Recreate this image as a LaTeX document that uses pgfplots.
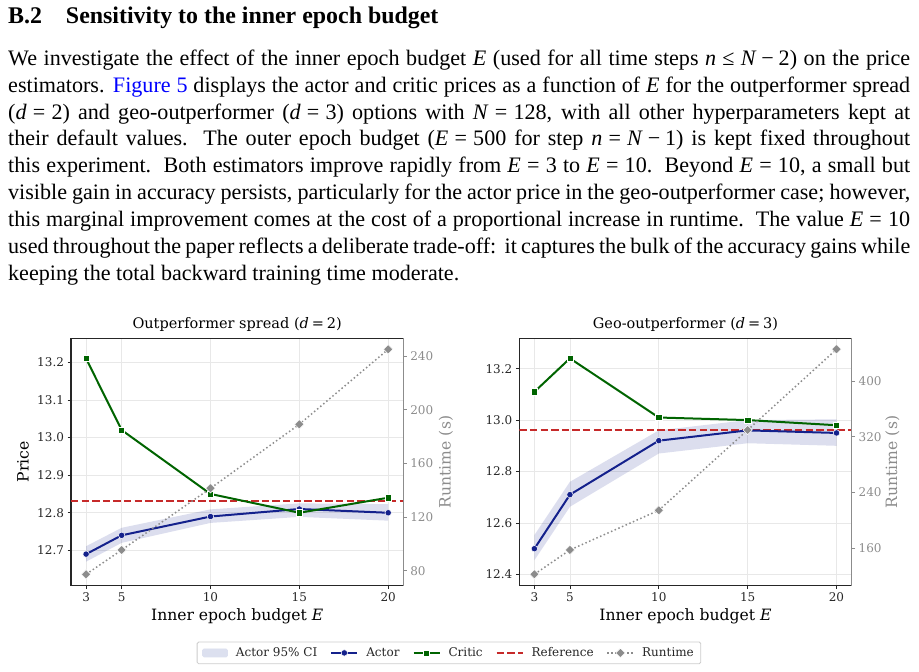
\documentclass[border=0pt]{standalone}
\usepackage{fontspec}
\setmainfont{Liberation Serif}
\newfontfamily\chartfont{DejaVu Serif}
\usepackage{pgfplots}
\usepackage{pgfplotstable}
\pgfplotsset{compat=1.18}
\usepgfplotslibrary{fillbetween}
\definecolor{actor}{HTML}{14218C}
\definecolor{critic}{HTML}{006400}
\definecolor{refc}{HTML}{C62A2A}
\definecolor{rtc}{HTML}{8C8C8C}
\definecolor{spine}{HTML}{262626}
\definecolor{gridc}{HTML}{E8E8E8}
\definecolor{cilight}{HTML}{DCE0EF}
\definecolor{legb}{HTML}{CCCCCC}
\definecolor{linkblue}{HTML}{0000FF}
\newcommand{\eq}{\hspace{0.28em}=\hspace{0.28em}}
\newcommand{\mi}[1]{\textit{#1}}
\newcommand{\bodyfont}{\fontsize{22.1}{26.84}\selectfont}

% Outperformer spread (d=2)
\pgfplotstableread{
E actor lo hi critic
3  12.69 12.670 12.711 13.21
5  12.74 12.720 12.760 13.02
10 12.79 12.773 12.809 12.85
15 12.81 12.789 12.825 12.80
20 12.80 12.779 12.823 12.84
}\tabA
\pgfplotstableread{
E rt
3  77.3
5  95.4
10 141.4
15 189.1
20 245.0
}\rtA
% Geo-outperformer (d=3)
\pgfplotstableread{
E actor lo hi critic
3  12.50 12.455 12.553 13.11
5  12.71 12.663 12.760 13.24
10 12.92 12.870 12.960 13.01
15 12.96 12.910 13.000 13.00
20 12.95 12.900 13.003 12.98
}\tabB
\pgfplotstableread{
E rt
3  122.7
5  157.6
10 214.5
15 329.7
20 445.5
}\rtB

\pgfplotsset{
  base/.style={
    scale only axis, width=332.3pt, height=247.4pt, anchor=south west,
    xmin=2.15, xmax=20.85, xtick={3,5,10,15,20},
    xtick pos=bottom, ytick pos=left, tick align=outside,
    major tick length=3.5pt,
    axis line style={line width=1.1pt, spine},
    tick style={line width=0.8pt, spine},
    tick label style={font=\chartfont\fontsize{12}{12}\selectfont, text=spine},
    /pgf/number format/assume math mode=true,
    label style={font=\chartfont\fontsize{15.6}{15.6}\selectfont},
    title style={font=\chartfont\fontsize{14.5}{14.5}\selectfont, at={(axis description cs:0.5,1)}, anchor=center, yshift=8.3pt},
    xlabel style={at={(axis description cs:0.5,0)}, anchor=center, yshift=-30.3pt},
  },
  pricestyle/.style={
    grid=major, major grid style={line width=0.8pt, gridc},
    xlabel={Inner epoch budget \mi{E}},
  },
  rtstyle/.style={
    axis x line=none, axis y line*=right, ytick pos=right,
    y axis line style={rtc, line width=1.1pt},
    ytick style={rtc, line width=0.8pt},
    yticklabel style={text=rtc},
    ylabel={Runtime (s)},
  },
  actorplot/.style={actor, line width=2pt, mark=*, mark size=3.2pt, mark options={draw=white, fill=actor, line width=0.5pt, solid}},
  criticplot/.style={critic, line width=2pt, mark=square*, mark size=3.1pt, mark options={draw=white, fill=critic, line width=0.5pt, solid}},
  refplot/.style={refc, line width=2pt, dash pattern=on 7.4pt off 3.2pt},
  rtplot/.style={rtc, line width=1.5pt, dash pattern=on 1.5pt off 2.5pt, mark=square*, mark size=3.3pt, mark options={rotate=45, draw=white, fill=rtc, line width=0.5pt, solid}},
}

\begin{document}
\begin{tikzpicture}

% ---------------- text ----------------
\node[anchor=base west, inner sep=0] at (8pt,-23.3pt) {\fontsize{23.9}{28}\selectfont\bfseries B.2\hspace{1em}Sensitivity to the inner epoch budget};
\begin{scope}[every node/.style={anchor=base west, inner sep=0}]
\node at (8pt,-65.3pt) {\bodyfont\makebox[902pt][s]{We investigate the effect of the inner epoch budget \mi{E} (used for all time steps \mi{n}\hspace{0.28em}≤\hspace{0.28em}\mi{N}\hspace{0.22em}−\hspace{0.22em}2) on the price}};
\node at (8pt,-92.1pt) {\bodyfont\makebox[902pt][s]{estimators. \textcolor{linkblue}{Figure 5} displays the actor and critic prices as a function of \mi{E} for the outperformer spread}};
\node at (8pt,-119.0pt) {\bodyfont\makebox[902pt][s]{(\mi{d}\eq2) and geo-outperformer (\mi{d}\eq3) options with \mi{N}\eq128, with all other hyperparameters kept at}};
\node at (8pt,-145.8pt) {\bodyfont\makebox[902pt][s]{their default values.\ \ The outer epoch budget (\mi{E}\eq500 for step \mi{n}\eq\mi{N}\hspace{0.22em}−\hspace{0.22em}1) is kept fixed throughout}};
\node at (8pt,-172.7pt) {\bodyfont\makebox[902pt][s]{this experiment.\ \ Both estimators improve rapidly from \mi{E}\eq3 to \mi{E}\eq10.\ \ Beyond \mi{E}\eq10, a small but}};
\node at (8pt,-199.5pt) {\bodyfont\makebox[902pt][s]{visible gain in accuracy persists, particularly for the actor price in the geo-outperformer case; however,}};
\node at (8pt,-226.3pt) {\bodyfont\makebox[902pt][s]{this marginal improvement comes at the cost of a proportional increase in runtime.\ \ The value \mi{E}\eq10}};
\node at (8pt,-253.2pt) {\bodyfont\makebox[902pt][s]{used throughout the paper reflects a deliberate trade-off:\ \ it captures the bulk of the accuracy gains while}};
\node at (8pt,-280.0pt) {\bodyfont keeping the total backward training time moderate.};
\end{scope}

% ---------------- left chart ----------------
\begin{axis}[base, pricestyle, at={(71pt,-585.7pt)},
  ymin=12.606, ymax=13.264,
  ytick={12.7,12.8,12.9,13.0,13.1,13.2},
  yticklabels={12.7,12.8,12.9,13.0,13.1,13.2},
  title={Outperformer spread (\mi{d}\hspace{0.2em}=\hspace{0.2em}2)},
  ylabel={Price},
  ylabel style={at={(axis description cs:-0.1446,0.5)}, anchor=center},
]
\addplot[name path=hiA, draw=none, forget plot] table[x=E, y=hi] {\tabA};
\addplot[name path=loA, draw=none, forget plot] table[x=E, y=lo] {\tabA};
\addplot[fill=actor, fill opacity=0.15, draw=none, forget plot] fill between[of=hiA and loA];
\addplot[refplot, forget plot] coordinates {(2.15,12.83) (20.85,12.83)};
\addplot[actorplot] table[x=E, y=actor] {\tabA};
\addplot[criticplot] table[x=E, y=critic] {\tabA};
\end{axis}
\begin{axis}[base, rtstyle, at={(71pt,-585.7pt)},
  ymin=68.8, ymax=253.2, ytick={80,120,160,200,240},
  ylabel style={text=rtc, at={(axis description cs:1.1286,0.5)}, anchor=center},
  legend columns=5,
  legend style={at={(axis description cs:1.1375,-0.2716)}, anchor=center,
    draw=legb, line width=0.8pt, fill=white, rounded corners=1.5pt,
    font=\chartfont\fontsize{12}{12}\selectfont, text=spine,
    inner xsep=5pt, inner ysep=3.5pt,
    /tikz/every odd column/.append style={column sep=6pt},
    /tikz/every even column/.append style={column sep=11pt}},
  legend cell align=left,
]
\addplot[rtplot, forget plot] table[x=E, y=rt] {\rtA};
\addlegendimage{legend image code/.code={\fill[cilight] (0pt,-4pt) rectangle (25pt,4pt);}}
\addlegendimage{actorplot, legend image code/.code={\draw[mark repeat=2,mark phase=2] plot coordinates {(0pt,0pt)(13pt,0pt)(26pt,0pt)};}}
\addlegendimage{criticplot, legend image code/.code={\draw[mark repeat=2,mark phase=2] plot coordinates {(0pt,0pt)(13pt,0pt)(26pt,0pt)};}}
\addlegendimage{refplot, legend image code/.code={\draw plot coordinates {(0pt,0pt)(26pt,0pt)};}}
\addlegendimage{rtplot, legend image code/.code={\draw[mark repeat=2,mark phase=2] plot coordinates {(0pt,0pt)(13pt,0pt)(26pt,0pt)};}}
\legend{Actor 95\% CI, Actor, Critic, Reference, Runtime}
\end{axis}

% ---------------- right chart ----------------
\begin{axis}[base, pricestyle, at={(519.3pt,-585.7pt)},
  ymin=12.356, ymax=13.318,
  ytick={12.4,12.6,12.8,13.0,13.2},
  yticklabels={12.4,12.6,12.8,13.0,13.2},
  title={Geo-outperformer (\mi{d}\hspace{0.2em}=\hspace{0.2em}3)},
]
\addplot[name path=hiB, draw=none, forget plot] table[x=E, y=hi] {\tabB};
\addplot[name path=loB, draw=none, forget plot] table[x=E, y=lo] {\tabB};
\addplot[fill=actor, fill opacity=0.15, draw=none, forget plot] fill between[of=hiB and loB];
\addplot[refplot, forget plot] coordinates {(2.15,12.96) (20.85,12.96)};
\addplot[actorplot] table[x=E, y=actor] {\tabB};
\addplot[criticplot] table[x=E, y=critic] {\tabB};
\end{axis}
\begin{axis}[base, rtstyle, at={(519.3pt,-585.7pt)},
  ymin=106.3, ymax=461.3, ytick={160,240,320,400},
  ylabel style={text=rtc, at={(axis description cs:1.1226,0.5)}, anchor=center},
]
\addplot[rtplot] table[x=E, y=rt] {\rtB};
\end{axis}
\pgfresetboundingbox
\path (0,0) rectangle (919pt,-672pt);
\end{tikzpicture}
\end{document}
